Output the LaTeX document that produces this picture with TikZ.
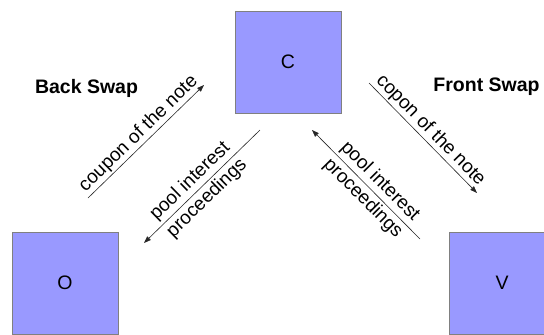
\documentclass[tikz,border=0pt]{standalone}
\usepackage{fontspec}
\setmainfont{Liberation Sans}
\usetikzlibrary{arrows.meta}
\definecolor{boxfill}{RGB}{153,153,255}
\definecolor{boxline}{RGB}{128,128,128}
\begin{document}
\begin{tikzpicture}[x=1bp,y=-1bp,
  party/.style={draw=boxline, line width=0.8bp, fill=boxfill, minimum width=106bp, minimum height=102bp, inner sep=0pt, font=\fontsize{19.5bp}{23bp}\selectfont},
  flow/.style={draw=black!85, line width=0.6bp, -{Triangle[length=7bp,width=5bp]}},
  lbl/.style={font=\fontsize{19bp}{24bp}\selectfont, sloped, align=center, inner sep=1.5bp},
  title/.style={font=\bfseries\fontsize{19.5bp}{23bp}\selectfont}]
\clip (0,0) rectangle (544,334);
\node[party] (C) at (288,62) {C};
\node[party] (O) at (65,283) {O};
\node[party] (V) at (502,283) {V};
\node[title] (bs) at (86.5,88) {Back Swap};
\node[title] (fs) at (486.5,87) {Front Swap};
\coordinate (a1) at (88,198);
\coordinate (a2) at (204,85);
\coordinate (b1) at (260,130);
\coordinate (b2) at (144,243);
\coordinate (c1) at (420,239);
\coordinate (c2) at (312,130);
\coordinate (d1) at (369,83);
\coordinate (d2) at (477,193);
\draw[flow] (a1) -- node[lbl, above] (la) {coupon of the note} (a2);
\draw[flow] (b1) -- node[lbl, pos=0.53] (lb) {pool interest\\proceedings} (b2);
\draw[flow] (c1) -- node[lbl, pos=0.45] (lc) {pool interest\\proceedings} (c2);
\draw[flow] (d1) -- node[lbl, above] (ld) {copon of the note} (d2);
\end{tikzpicture}
\end{document}
